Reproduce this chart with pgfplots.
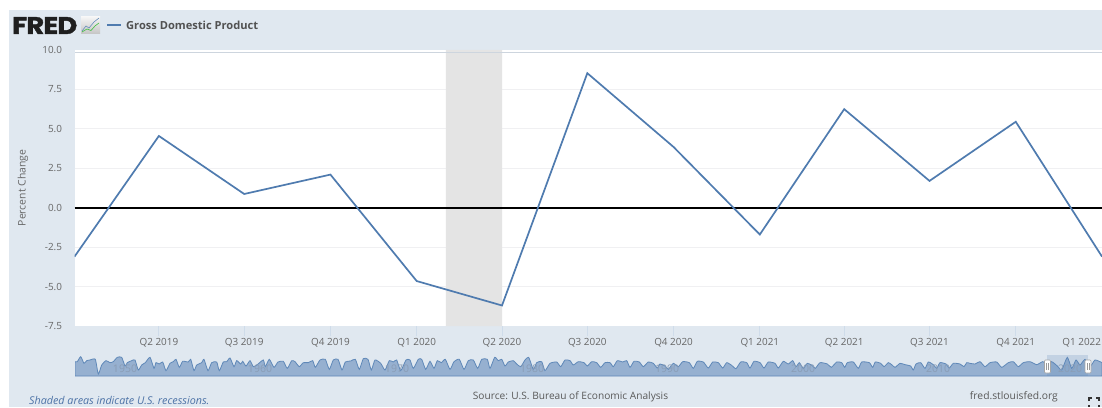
\documentclass[border=0pt]{standalone}
\usepackage{pgfplots}
\usepackage{pgfplotstable}
\usepackage{fontspec}
\pgfplotsset{compat=1.18}
\setmainfont{Open Sans}
\newfontfamily\logofont[BoldFeatures={FakeBold=1.6}]{Poppins}
\definecolor{panel}{HTML}{E0E8F0}
\definecolor{seriesblue}{HTML}{4F7BAF}
\definecolor{gridgray}{HTML}{F0F0F2}
\definecolor{bandgray}{HTML}{E4E4E4}
\definecolor{tickblue}{HTML}{CFDCEA}
\definecolor{labelgray}{HTML}{666666}
\definecolor{navfill}{HTML}{96B0D0}
\definecolor{navline}{HTML}{5F88B8}
\definecolor{navtop}{HTML}{CDD5DE}
\definecolor{navyear}{HTML}{8A9DB6}
\definecolor{noteblue}{HTML}{4C72A6}

% Quarterly percent change; x is days since 1 January 2019
\pgfplotstableread{
day  change
0    -3.1
90   4.55
181  0.87
273  2.1
365  -4.65
456  -6.2
547  8.53
639  3.85
731  -1.7
821  6.25
912  1.7
1004 5.45
1096 -3.1
}\gdpquarterly

% Full-history overview strip: horizontal position and level of the curve
\pgfplotstableread{
pos level
75 43
77.3 43
80.7 58
84 38
86.7 46
90 48
95.3 50
98.3 6
101.7 33
106 46
110 40
113.3 43
117.3 56
121.7 56
125 30
127.3 40
131.7 46
135 48
138.3 18
141.7 33
145.3 40
150 56
154 23
156 40
159.3 36
162.7 42
166 16
170 38
173.3 43
176 50
179.3 26
182.7 44
188.3 42
190.7 50
194 16
196.7 33
201.7 40
204 50
208 16
211.7 40
216.7 42
219.3 16
223.3 42
226.7 43
230 54
234 28
236.7 46
240.7 36
242.7 44
246 30
250 46
253.3 28
257.3 34
263.3 48
265.3 28
269.3 50
274 26
278 42
283.3 44
287.3 23
291.7 46
295 43
299.3 28
303.3 40
308.3 40
312.7 46
315.3 26
320 48
325.3 50
329.3 20
333.3 48
338 50
342 18
345.3 42
350.7 45
355.3 50
359.3 20
363.3 52
368 50
371.3 18
375 48
380.7 38
385 18
389.3 46
393.3 42
396.7 48
400.7 16
406 48
410 48
413.3 23
418.3 50
421.7 50
425.7 20
430 44
434 23
437.3 46
441.3 40
445.3 50
450 20
454 43
459.3 50
464 20
468.3 46
473.3 48
477.7 23
481.7 50
487.3 50
490 23
494.7 56
498.3 46
501.7 50
505 30
508.3 42
513.3 46
516.7 36
520.7 28
525 48
528.7 56
533.3 20
536.7 40
541.7 43
545 16
550 38
556.7 42
560.7 28
565 48
570 46
573.3 33
578.3 43
584 40
587.3 30
591.7 43
596.7 40
600.7 26
605 40
610 40
613.3 28
617.3 46
622.7 42
626.7 46
630 26
634 44
639.3 42
643.3 28
648.3 42
653.3 38
657.3 24
660 36
665 30
668.3 20
673.3 38
678.3 28
682.7 43
689.3 40
693.3 23
697.3 44
703.3 42
708.3 24
712.7 42
718.3 40
722.7 24
726.7 40
731.7 32
736 22
740.7 42
746.7 40
750 24
754 44
760 40
764 24
768.3 42
775 38
778.3 24
783.3 44
788.3 36
792.7 46
796 28
799.3 40
803.3 23
807.3 38
812 32
815.3 23
820 40
827.3 36
831.3 26
836.7 42
841.7 40
844.7 26
847.3 40
853.3 42
858.3 23
861.7 42
869.3 40
872.7 26
875.3 42
880.7 38
884 28
888.3 40
891.7 34
895 26
900 38
905 34
910.7 30
913.3 18
916 36
920.7 40
925 23
928.3 42
933.3 34
936.7 23
940 40
946 36
949.3 24
953.3 38
960 36
964 28
966.7 40
970 38
975 36
980 43
985 28
990 40
996.7 42
1001.7 26
1008.3 40
1013.3 43
1018.3 28
1023.3 40
1030 43
1036.7 34
1042.7 43
1047.3 36
1051.7 43
1057.3 30
1061.7 18
1067.3 56
1071.7 23
1076 48
1080 33
1085 50
1090 28
1095 48
1102 40
}\overviewcurve

\begin{document}
\begin{tikzpicture}[x=1pt,y=1pt]
  % page and header/footer panel
  \path[use as bounding box] (0,0) rectangle (1102,407);
  \fill[white] (0,0) rectangle (1102,407);
  \fill[panel] (9,0) rectangle (1102,397);

  % main chart
  \begin{axis}[
    at={(74.5pt,81pt)}, anchor=south west,
    scale only axis, width=1027.5pt, height=276pt,
    xmin=0, xmax=1096, ymin=-7.5, ymax=10,
    axis background/.style={fill=white},
    axis line style={draw=none},
    xtick={90,181,273,365,456,547,639,731,821,912,1004,1096},
    xticklabels={Q2 2019,Q3 2019,Q4 2019,Q1 2020,Q2 2020,Q3 2020,Q4 2020,Q1 2021,Q2 2021,Q3 2021,Q4 2021,{\makebox[0pt][r]{Q1 2022\hspace{1pt}}}},
    ytick={-5,-2.5,0,2.5,5,7.5},
    yticklabels={-5.0,-2.5,0.0,2.5,5.0,7.5},
    extra y ticks={-7.5,10},
    extra y tick labels={-7.5,10.0},
    extra y tick style={grid=none, y tick style={draw=none}},
    tick align=outside,
    xtick pos=bottom, ytick pos=left,
    x tick style={draw=tickblue, line width=1pt},
    major tick length=10pt,
    y tick style={draw=none},
    ymajorgrids,
    grid style={draw=gridgray, line width=1.2pt},
    tick label style={text=labelgray, font=\fontsize{9.9}{12}\selectfont},
    xticklabel style={yshift=1.5pt},
    yticklabel style={xshift=1pt},
    clip=true,
  ]
    % recession band, 1 February to 1 April 2020
    \addplot[draw=none, fill=bandgray] coordinates {(396,-7.5) (456,-7.5) (456,10) (396,10)} \closedcycle;
    \addplot[black, line width=2pt, forget plot] coordinates {(0,0) (1096,0)};
    \addplot[seriesblue, line width=1.7pt, line join=miter] table[x=day, y=change] {\gdpquarterly};
  \end{axis}

  % overview strip
  \draw[navtop, line width=.8pt] (75,355) -- (1102,355);
  \begin{axis}[
    at={(75pt,31pt)}, anchor=south west,
    scale only axis, width=1027pt, height=21pt,
    xmin=75, xmax=1102, ymin=0, ymax=63,
    axis lines=none, clip=true,
  ]
    \addplot[draw=navline, line width=.8pt, fill=navfill, smooth, tension=.35] table[x=pos, y=level] {\overviewcurve} \closedcycle;
  \end{axis}
  \fill[navline, opacity=.22] (1047,31) rectangle (1088,52);
  \foreach \px/\yr in {125/1950,260/1960,397/1970,532/1980,667/1990,803/2000,938/2010,1070/2020}
    \node[text=navyear, font=\fontsize{10.5}{12}\selectfont, inner sep=0pt] at (\px,38) {\yr};
  \foreach \hx in {1047.5,1088} {
    \fill[white, draw=gray!70, line width=.6pt, rounded corners=1pt] (\hx-3,34) rectangle (\hx+3,47);
    \draw[gray!80, line width=.5pt] (\hx-.9,37) -- (\hx-.9,44) (\hx+.9,37) -- (\hx+.9,44);
  }

  % logo and legend
  \node[anchor=west, inner sep=0pt, text=black!88, xscale=1.14] at (12,381.5)
    {\logofont\bfseries\fontsize{24}{24}\selectfont\addfontfeatures{LetterSpace=-3}FRED};
  \shade[top color=gray!8, bottom color=gray!45] (81,373.5) rectangle (100,390);
  \draw[seriesblue!85, line width=.6pt] (82,376) -- (86,381) -- (89,379) -- (94,385) -- (99,389);
  \draw[green!50!gray, line width=.6pt] (82,375) -- (87,378) -- (91,376.5) -- (95,381) -- (99,384);
  \draw[seriesblue, line width=1.4pt] (107,382) -- (121,382);
  \node[anchor=west, inner sep=0pt, text=black!68] at (126,381.5)
    {\bfseries\fontsize{11.1}{12}\selectfont Gross Domestic Product};

  % axis title and footer
  \node[rotate=90, inner sep=0pt, text=labelgray] at (23,219)
    {\fontsize{10.4}{12}\selectfont Percent Change};
  \node[anchor=west, inner sep=0pt, text=noteblue] at (29,7)
    {\itshape\fontsize{10.75}{12}\selectfont Shaded areas indicate U.S. recessions.};
  \node[inner sep=0pt, text=black!65] at (570.5,10)
    {\fontsize{10.15}{12}\selectfont Source: U.S. Bureau of Economic Analysis};
  \node[anchor=east, inner sep=0pt, text=black!65] at (1058,10)
    {\fontsize{10.3}{12}\selectfont fred.stlouisfed.org};

  % full-screen corners
  \draw[black!80, line width=1.1pt]
    (1089,6) -- (1089,9) -- (1092,9)
    (1096,9) -- (1099,9) -- (1099,6)
    (1089,2) -- (1089,0) (1099,2) -- (1099,0);
\end{tikzpicture}
\end{document}
